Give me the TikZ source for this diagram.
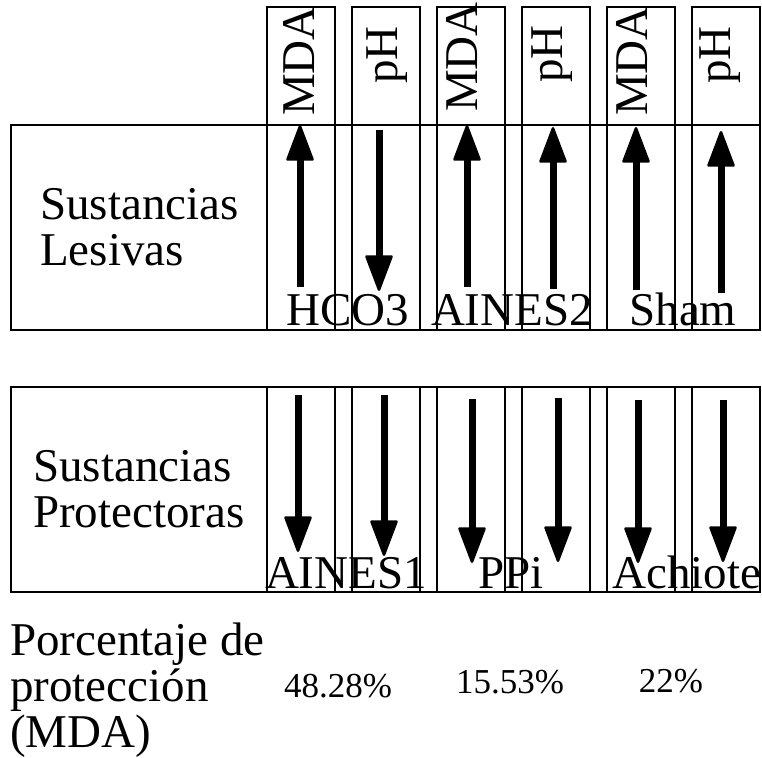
\documentclass[tikz,border=0pt]{standalone}
\usepackage{fontspec}
\setmainfont{Liberation Serif}
\usetikzlibrary{arrows.meta}

\tikzset{
  caja/.style={draw=black, line width=1.3pt},
  grande/.style={font=\fontsize{47}{46}\selectfont, inner sep=0pt},
  mediano/.style={font=\fontsize{35}{35}\selectfont, inner sep=0pt},
  flecha/.style={line width=7pt, -{Triangle[length=38pt,width=28pt,line width=2.5pt,round]}}
}

\begin{document}
\begin{tikzpicture}[x=1pt,y=-1pt]
\useasboundingbox (0,0) rectangle (762,757);

% marcos grandes
\draw[caja] (11,125) rectangle (760,330);
\draw[caja] (11,387) rectangle (760,592);

% columnas
\foreach \i in {0,...,5} {
  \draw[caja] (267+85*\i,7) rectangle ++(68,118);
  \draw[caja] (267+85*\i,125) rectangle ++(68,205);
  \draw[caja] (267+85*\i,387) rectangle ++(68,205);
}

% encabezados
\foreach \n/\x/\y/\t in {1/299/61/MDA, 2/387/55/pH, 3/462/57/MDA,
                         4/552/54/pH, 5/632/61/MDA, 6/720/55/pH}
  \node[grande, rotate=90] (cab\n) at (\x,\y) {\t};

% sustancias lesivas
\node[grande, align=left, anchor=west] (lesivas) at (40,227) {Sustancias\\Lesivas};
\foreach \n/\x/\a/\b in {1/300/287/125, 2/379/130/291, 3/467/287/125,
                         4/553/289/127, 5/636/290/127, 6/721/293/131} {
  \coordinate (la\n) at (\x,\a);
  \coordinate (lb\n) at (\x,\b);
  \draw[flecha] (la\n) -- (lb\n);
}
\node[grande, anchor=base] (hco) at (348,325) {HCO3};
\node[grande, anchor=base] (aines2) at (512,325) {AINES2};
\node[grande, anchor=base] (sham) at (683,325) {Sham};

% sustancias protectoras
\node[grande, align=left, anchor=west] (protect) at (33,489) {Sustancias\\Protectoras};
\foreach \n/\x/\a/\b in {1/298/395/552, 2/384/395/556, 3/472/399/563,
                         4/558/398/562, 5/638/400/563, 6/723/400/562} {
  \coordinate (pa\n) at (\x,\a);
  \coordinate (pb\n) at (\x,\b);
  \draw[flecha] (pa\n) -- (pb\n);
}
\node[grande, anchor=base] (aines1) at (346,588) {AINES1};
\node[grande, anchor=base] (ppi) at (511,588) {PPi};
\node[grande, anchor=base] (achiote) at (687,588) {Achiote};

% porcentajes
\node[grande, align=left, anchor=west, font=\fontsize{47}{46}\selectfont] (porc) at (10,690)
  {Porcentaje de\\protección\\(MDA)};
\node[mediano, anchor=base] (p1) at (338,697) {48.28\%};
\node[mediano, anchor=base] (p2) at (510,693) {15.53\%};
\node[mediano, anchor=base] (p3) at (671,692) {22\%};
\end{tikzpicture}
\end{document}
